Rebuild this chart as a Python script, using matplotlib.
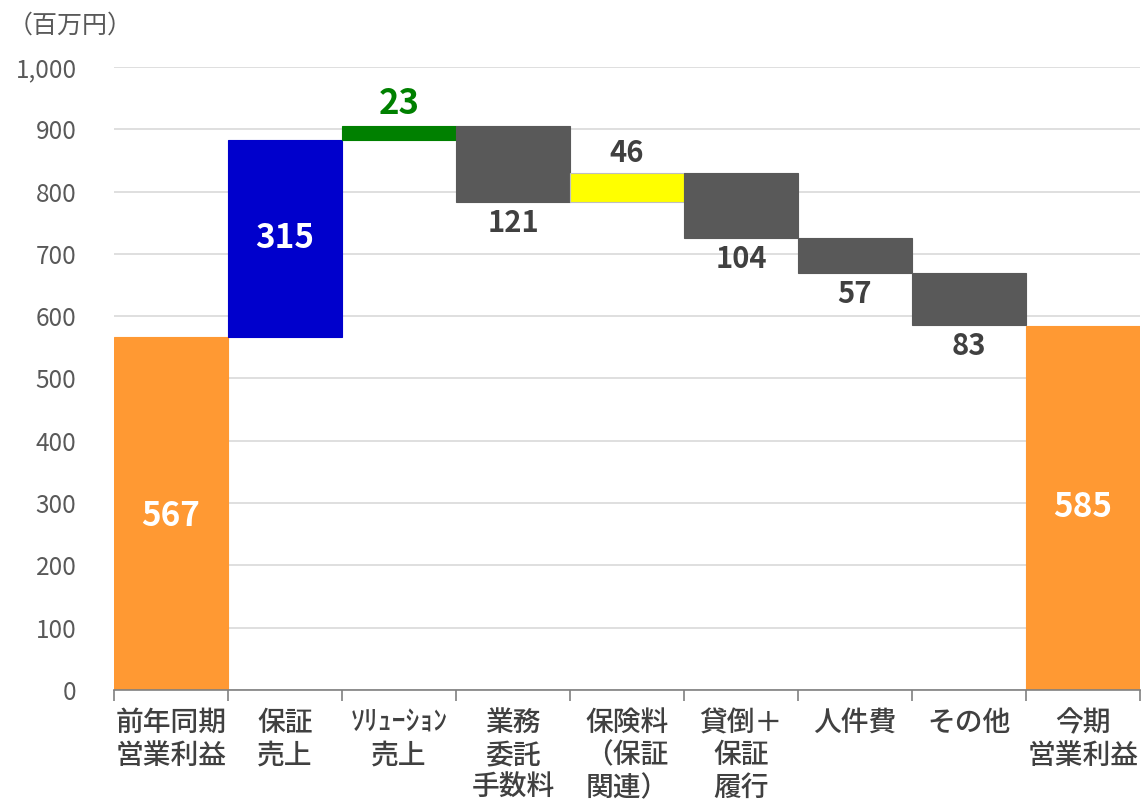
import numpy as np
import matplotlib.pyplot as plt

plt.rcParams['font.family'] = ['Noto Sans CJK JP', 'DejaVu Sans']

categories = ['前年同期\n営業利益', '保証\n売上', 'ｿﾘｭｰｼｮﾝ\n売上', '業務\n委託\n手数料',
              '保険料\n（保証\n関連）', '貸倒＋\n保証\n履行', '人件費', 'その他', '今期\n営業利益']
start_value = 567
changes = [315, 23, -121, 46, -104, -57, -83]
end_value = 585
colors = ['#FF9933', '#0000CC', '#008000', '#595959', '#FFFF00',
          '#595959', '#595959', '#595959', '#FF9933']
yticks = list(range(0, 1001, 100))

# waterfall geometry from the data
levels = np.cumsum([start_value] + changes)
bottoms = [0]
heights = [start_value]
for i, c in enumerate(changes):
    bottoms.append(min(levels[i], levels[i + 1]))
    heights.append(abs(c))
bottoms.append(0)
heights.append(end_value)

fig = plt.figure(figsize=(11.44, 8.05), dpi=100)
ax = fig.add_axes([0.0997, 0.1429, 0.8968, 0.7739])

x = np.arange(len(categories))
edges = ['#BFBFBF' if c == '#FFFF00' else c for c in colors]
ax.bar(x, heights, bottom=bottoms, width=1.0, color=colors,
       edgecolor=edges, linewidth=0.8, zorder=3)

# labels
txt = '#404040'
ax.text(x[0], start_value / 2 - 5, str(start_value), ha='center', va='center',
        color='white', fontsize=24, fontweight='bold', zorder=4)
ax.text(x[-1], end_value / 2, str(end_value), ha='center', va='center',
        color='white', fontsize=24, fontweight='bold', zorder=4)
for i, c in enumerate(changes):
    xi = x[i + 1]
    b, h = bottoms[i + 1], heights[i + 1]
    if c == 315:
        ax.text(xi, b + h / 2, str(c), ha='center', va='center',
                color='white', fontsize=24, fontweight='bold', zorder=4)
    elif c > 0:
        green = colors[i + 1] == '#008000'
        ax.text(xi, b + h + 8, str(c), ha='center', va='bottom',
                color='#008000' if green else txt, fontsize=25 if green else 21,
                fontweight='bold', zorder=4)
    else:
        ax.text(xi, b - 10, str(abs(c)), ha='center', va='top',
                color=txt, fontsize=21, fontweight='bold', zorder=4)

ax.set_xlim(-0.5, len(categories) - 0.5)
ax.set_ylim(0, 1000)
ax.set_yticks(yticks)
ax.set_yticklabels([f'{v:,}' for v in yticks])
ax.tick_params(axis='y', length=0, pad=27, labelsize=17.5, labelcolor='#595959')
ax.grid(axis='y', color='#D9D9D9', linewidth=1.2, zorder=0)

ax.set_xticks(x)
ax.set_xticklabels(categories, fontsize=20, color='#404040', linespacing=1.15,
                   fontweight='medium')
ax.tick_params(axis='x', which='major', length=0, pad=13)
ax.set_xticks(np.arange(-0.5, len(categories)), minor=True)
ax.tick_params(axis='x', which='minor', length=8, width=1.2, color='#808080')
for lab in ax.get_xticklabels():
    lab.set_verticalalignment('top')
    lab.set_multialignment('center')

for s in ['top', 'right', 'left']:
    ax.spines[s].set_visible(False)
ax.spines['bottom'].set_color('#808080')
ax.spines['bottom'].set_linewidth(1.2)
ax.spines['bottom'].set_zorder(5)

fig.text(0.007, 0.968, '（百万円）', ha='left', va='center', fontsize=18, color='#595959')

fig.savefig('out.png', dpi=100)
